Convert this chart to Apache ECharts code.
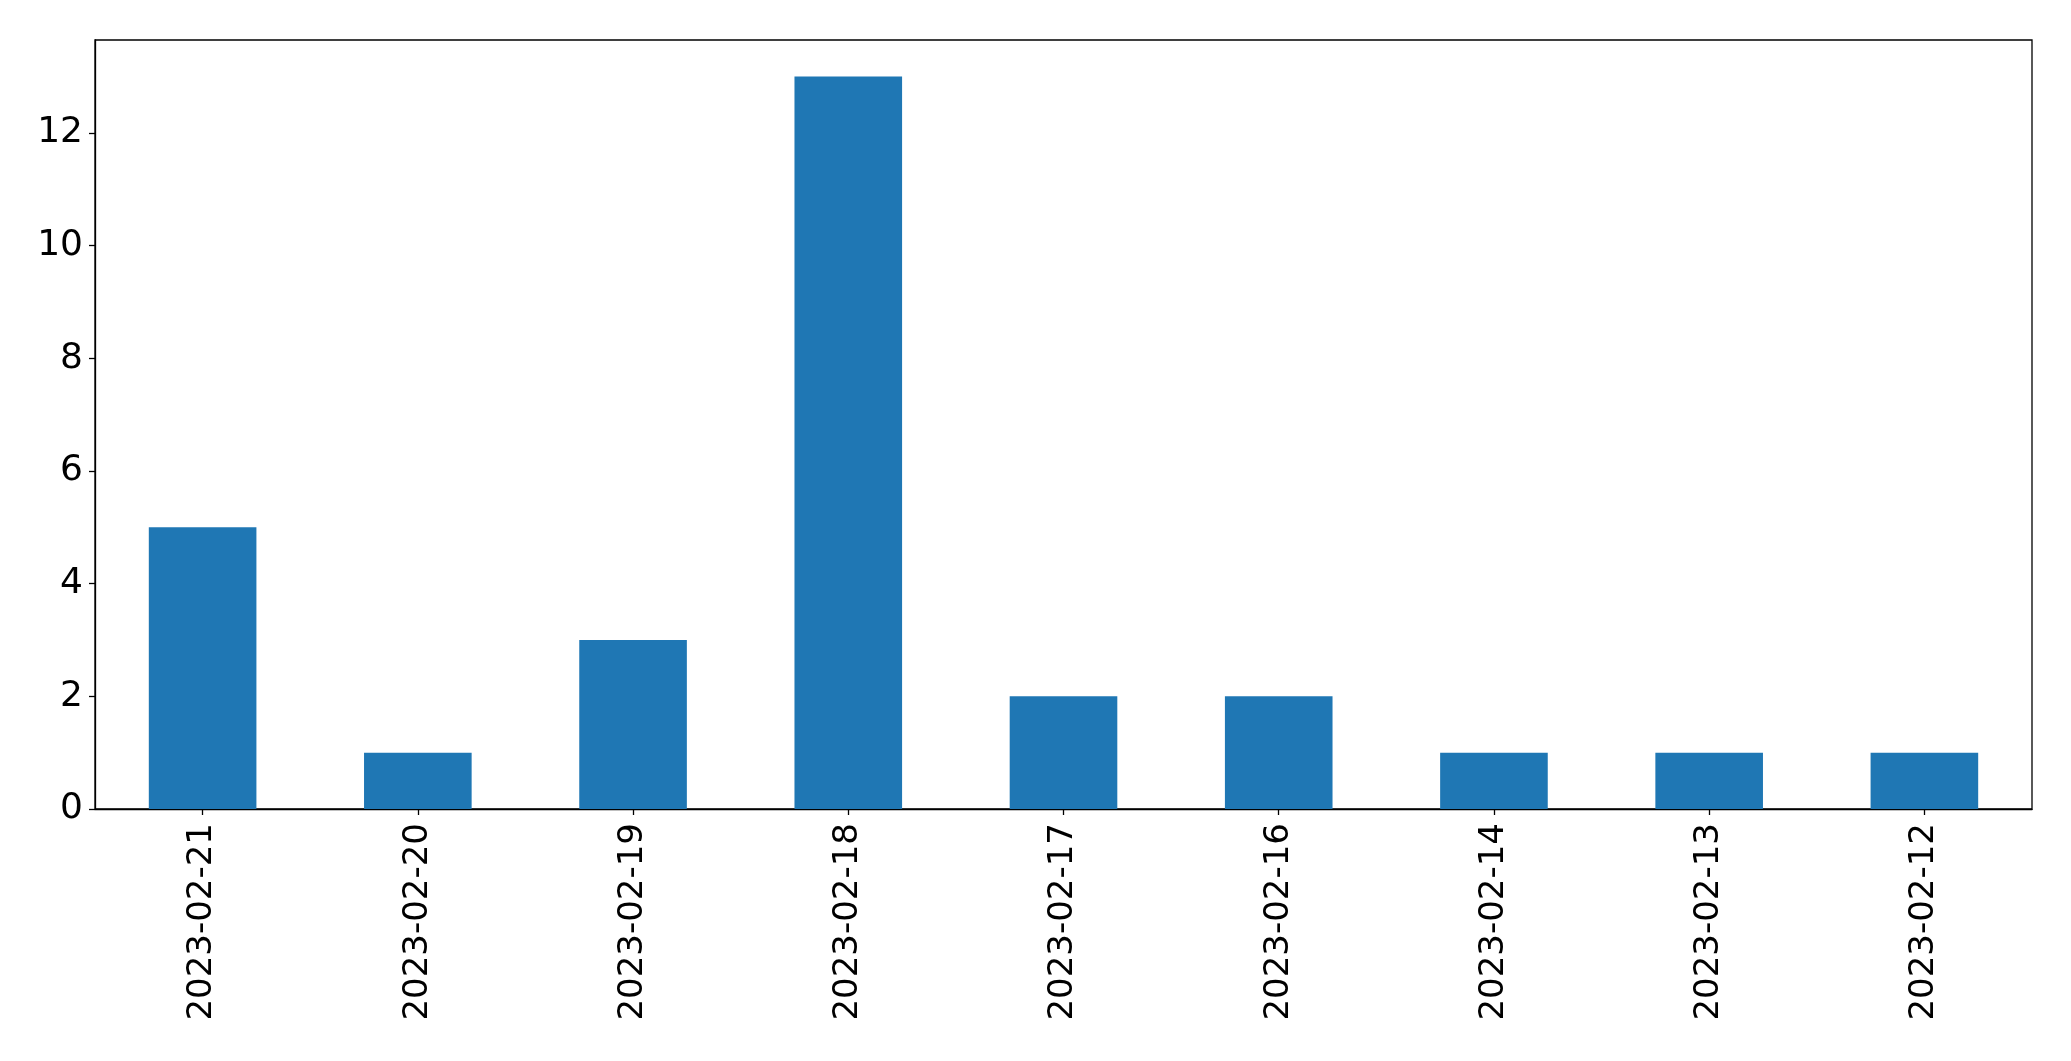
<!DOCTYPE html>
<html>
<head>
<meta charset="utf-8">
<script src="https://cdn.jsdelivr.net/npm/echarts@6/dist/echarts.min.js"></script>
<style>html,body{margin:0;padding:0;background:#fff;}#c{width:2071px;height:1061px;}</style>
</head>
<body>
<div id="c"></div>
<script>
const categories = ["2023-02-21","2023-02-20","2023-02-19","2023-02-18","2023-02-17","2023-02-16","2023-02-14","2023-02-13","2023-02-12"];
const values = [5, 1, 3, 13, 2, 2, 1, 1, 1];
const yTicks = [0, 2, 4, 6, 8, 10, 12];

const chart = echarts.init(document.getElementById('c'), null, {renderer: 'canvas'});
const font = "DejaVu Sans";
chart.setOption({
  animation: false,
  backgroundColor: '#fff',
  grid: {left: 95, top: 40, right: 39, bottom: 252, show: true, borderColor: '#000', borderWidth: 1.3, containLabel: false},
  xAxis: {
    type: 'category',
    data: categories,
    axisLine: {show: true, lineStyle: {color: '#000', width: 1.3}},
    axisTick: {show: true, alignWithLabel: true, length: 6, lineStyle: {color: '#000', width: 1.3}},
    axisLabel: {rotate: 90, margin: 14, fontFamily: font, fontSize: 34, color: '#000'},
    splitLine: {show: false}
  },
  yAxis: {
    type: 'value',
    min: 0,
    max: 13.65,
    interval: 2,
    axisLine: {show: true, lineStyle: {color: '#000', width: 1.3}},
    axisTick: {show: true, length: 6, lineStyle: {color: '#000', width: 1.3}},
    axisLabel: {margin: 12, fontFamily: font, fontSize: 36, color: '#000', showMaxLabel: false,
      formatter: v => yTicks.includes(v) ? String(v) : ''},
    splitLine: {show: false}
  },
  series: [{
    type: 'bar',
    data: values,
    barWidth: '50%',
    itemStyle: {color: '#1f77b4'}
  }]
});
</script>
</body>
</html>
